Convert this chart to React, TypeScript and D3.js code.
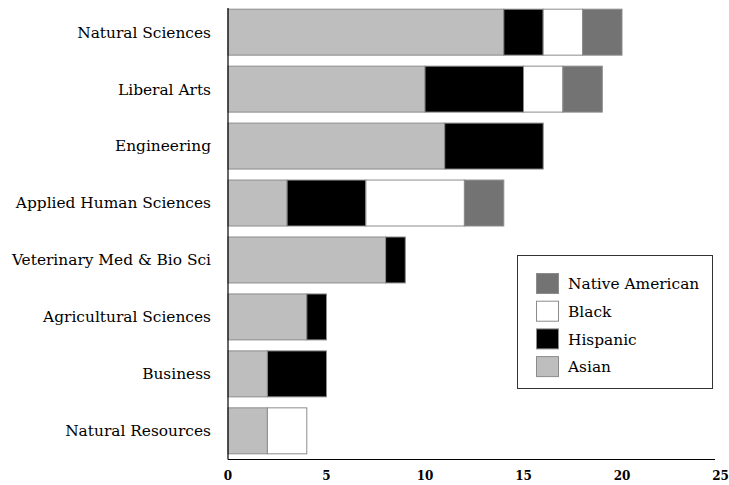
import React from "react";
import * as d3 from "d3";

const categories = [
  "Natural Sciences",
  "Liberal Arts",
  "Engineering",
  "Applied Human Sciences",
  "Veterinary Med & Bio Sci",
  "Agricultural Sciences",
  "Business",
  "Natural Resources",
];
const seriesNames = ["Asian", "Hispanic", "Black", "Native American"];
const asian = [14, 10, 11, 3, 8, 4, 2, 2];
const hispanic = [2, 5, 5, 4, 1, 1, 3, 0];
const black = [2, 2, 0, 5, 0, 0, 0, 2];
const nativeAmerican = [2, 2, 0, 2, 0, 0, 0, 0];
const xTicks = [0, 5, 10, 15, 20, 25];
const colors = ["#bebebe", "#000000", "#ffffff", "#737373"];

const W = 729;
const H = 485;
const FONT = "'DejaVu Serif', serif";

export default function App() {
  const x = d3.scaleLinear().domain([0, 25]).range([228, 720.5]);
  const y = d3.scaleBand().domain(categories).range([3.5, 459.5]).paddingInner(0.193).paddingOuter(0.1);
  const series = [asian, hispanic, black, nativeAmerican];
  const rows = categories.map((c, i) => {
    const o: any = { cat: c };
    seriesNames.forEach((s, j) => (o[s] = series[j][i]));
    return o;
  });
  const stacked = d3.stack().keys(seriesNames)(rows);
  const legendOrder = [3, 2, 1, 0];

  return (
    <svg width={W} height={H} style={{ position: "absolute", left: 0, top: 0, background: "#fff" }}>
      {stacked.map((layer, j) =>
        layer.map((d, i) =>
          d[1] - d[0] > 0 ? (
            <rect
              key={j + "-" + i}
              x={x(d[0])}
              y={y(categories[i])}
              width={x(d[1]) - x(d[0])}
              height={y.bandwidth()}
              fill={colors[j]}
              stroke="#8c8c8c"
              strokeWidth={1}
            />
          ) : null
        )
      )}
      <line x1={228} x2={228} y1={8} y2={459.5} stroke="#000" strokeWidth={1.2} />
      <line x1={228} x2={715} y1={459.5} y2={459.5} stroke="#000" strokeWidth={1.2} />
      {categories.map((c) => (
        <text
          key={c}
          x={211}
          y={(y(c) as number) + y.bandwidth() / 2}
          dy="0.35em"
          textAnchor="end"
          fontFamily={FONT}
          fontSize={15.4}
          fill="#000"
        >
          {c}
        </text>
      ))}
      {xTicks.map((t) => (
        <text key={t} x={x(t)} y={480} textAnchor="middle" fontFamily={FONT} fontSize={12} fontWeight="bold">
          {t}
        </text>
      ))}
      <rect x={517.5} y={255.5} width={195} height={133} fill="#fff" stroke="#333" strokeWidth={1} />
      {legendOrder.map((j, k) => (
        <g key={j} transform={`translate(536, ${273 + k * 27.7})`}>
          <rect x={0.5} y={0.5} width={22} height={20} fill={colors[j]} stroke="#8c8c8c" />
          <text x={32} y={11} dy="0.35em" fontFamily={FONT} fontSize={15.4}>
            {seriesNames[j]}
          </text>
        </g>
      ))}
    </svg>
  );
}
